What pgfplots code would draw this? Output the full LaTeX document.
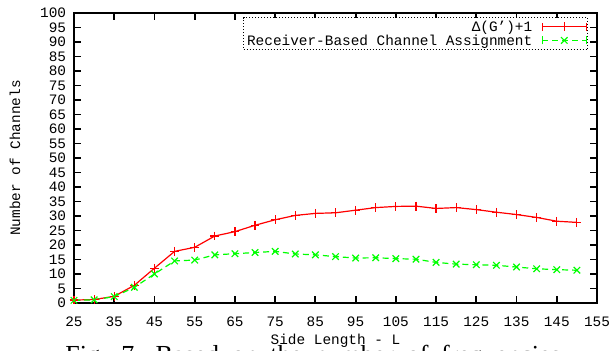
\documentclass[border=0pt]{standalone}
\usepackage{fontspec}
\setmainfont{Liberation Mono}
\newfontfamily\seriffont{Liberation Serif}
\usepackage{pgfplots}
\pgfplotsset{compat=1.18}
\definecolor{gpred}{RGB}{255,0,0}
\definecolor{gpgreen}{RGB}{0,255,0}
\pgfplotstableread{
x red green
25 1.0 0.9
30 1.2 1.1
35 2.3 2.2
40 6.1 5.4
45 12.0 10.0
50 17.8 14.5
55 19.2 14.8
60 23.1 16.6
65 24.6 17.0
70 26.8 17.4
75 28.7 17.8
80 30.2 16.9
85 30.9 16.6
90 31.1 16.0
95 32.0 15.5
100 32.9 15.6
105 33.3 15.3
110 33.4 15.1
115 32.6 14.0
120 32.9 13.4
125 32.2 13.2
130 31.3 13.0
135 30.5 12.4
140 29.5 11.8
145 28.2 11.5
150 27.8 11.3
}\datatable
\begin{document}
\begin{tikzpicture}
\path[use as bounding box, clip] (-37pt,-24pt) rectangle (269.5pt,151.5pt);
\node[anchor=base west, font=\seriffont\fontsize{13}{15}\selectfont, inner sep=0pt] at (-4.5pt,-30.5pt) {\spaceskip=6.3pt\relax Fig. 7. Based on the number of frequencies};
\begin{axis}[
  at={(0,0)}, anchor=south west, scale only axis,
  width=261.5pt, height=145pt,
  xmin=25, xmax=155, ymin=0, ymax=100,
  xtick={25,35,...,155}, ytick={0,5,...,100},
  tick align=inside, major tick length=3.5pt,
  tick style={line width=0.9pt, black},
  axis line style={line width=1pt},
  font=\fontsize{7.2}{8}\selectfont,
  /pgf/number format/assume math mode=true,
  xticklabel style={yshift=-3.5pt},
  yticklabel style={xshift=-0.4pt},
  xlabel={Side Length - L},
  ylabel={Number of Channels},
  every axis x label/.style={at={(axis description cs:0.5,0)}, anchor=center, yshift=-19pt},
  every axis y label/.style={at={(axis description cs:0,0.5)}, xshift=-29.5pt, rotate=90, anchor=center},
  legend cell align=right,
  legend plot pos=right,
  legend style={at={(0.9835,0.986)}, anchor=north east, draw=black, densely dotted, line width=0.5pt,
    fill=white, row sep=-0.8pt, column sep=3.5pt, inner xsep=0.5pt, inner ysep=0.8pt,
    nodes={inner sep=1.2pt, text depth=0pt}},
  legend image code/.code={
    \draw[#1, mark=none] (0pt,0pt) -- (22pt,0pt);
    \draw[#1, mark=none, solid] (0pt,-2pt) -- (0pt,2pt) (22pt,-2pt) -- (22pt,2pt);
    \draw[#1, only marks] plot coordinates {(11pt,0pt)};
  },
]
\addplot[color=gpred, solid, line width=0.6pt, mark=+, mark size=2.2pt, mark options={solid, line width=0.6pt}]
  table[x=x, y=red] {\datatable};
\addlegendentry{Δ(G’)+1}
\addplot[color=gpgreen, dash pattern=on 3pt off 2pt, line width=0.6pt, mark=x, mark size=2.3pt, mark options={solid, line width=0.6pt}]
  table[x=x, y=green] {\datatable};
\addlegendentry{Receiver-Based Channel Assignment}
\end{axis}
\end{tikzpicture}
\end{document}
